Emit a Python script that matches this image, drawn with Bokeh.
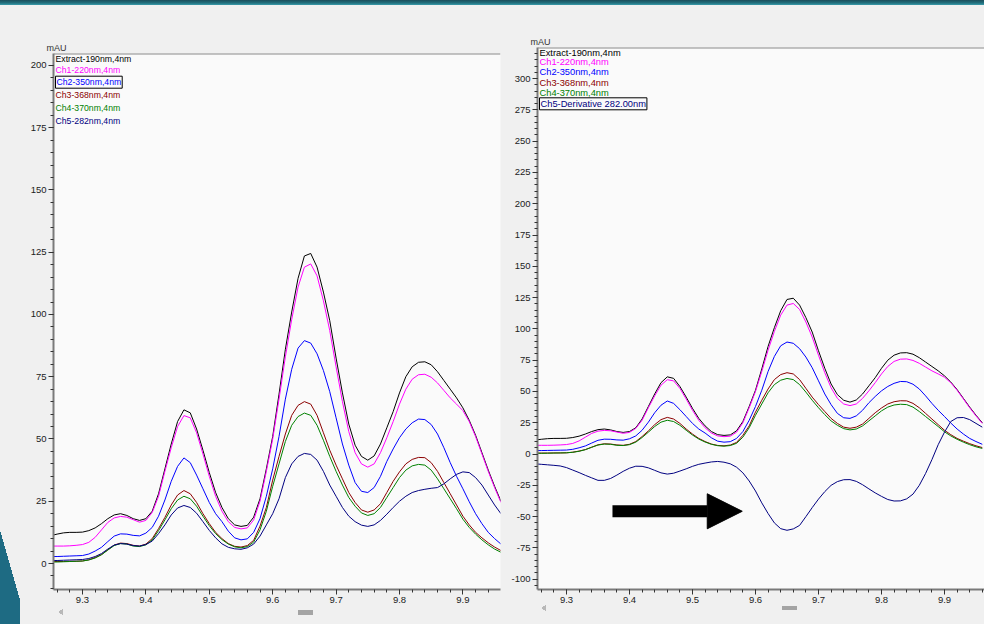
from bokeh.plotting import figure
from bokeh.layouts import row
from bokeh.models import (Range1d, SingleIntervalTicker, PrintfTickFormatter, Label,
                          Arrow, NormalHead, Span, Title)
from bokeh.embed import file_html
from bokeh.resources import INLINE

# ---------------- data (retention time in min, absorbance in mAU) ----------------
RT = [9.25, 9.26, 9.27, 9.28, 9.29, 9.30, 9.31, 9.32, 9.33, 9.34,
      9.35, 9.36, 9.37, 9.38, 9.39, 9.40, 9.41, 9.42, 9.43, 9.44,
      9.45, 9.46, 9.47, 9.48, 9.49, 9.50, 9.51, 9.52, 9.53, 9.54,
      9.55, 9.56, 9.57, 9.58, 9.59, 9.60, 9.61, 9.62, 9.63, 9.64,
      9.65, 9.66, 9.67, 9.68, 9.69, 9.70, 9.71, 9.72, 9.73, 9.74,
      9.75, 9.76, 9.77, 9.78, 9.79, 9.80, 9.81, 9.82, 9.83, 9.84,
      9.85, 9.86, 9.87, 9.88, 9.89, 9.90, 9.91, 9.92, 9.93, 9.94,
      9.95, 9.96]

EXTRACT_190 = [11.2, 11.8, 12.3, 12.5, 12.5, 12.6, 13.2, 14.3, 16.0, 18.0,
               19.5, 20.0, 19.3, 18.0, 17.3, 18.0, 21.0, 28.0, 38.0, 48.0,
               57.0, 61.7, 60.5, 54.0, 45.5, 36.5, 28.5, 22.5, 18.0, 15.5,
               14.9, 15.3, 18.6, 26.0, 38.0, 51.0, 68.0, 86.0, 101.0, 114.5,
               123.5, 124.5, 119.0, 109.0, 97.5, 82.5, 68.5, 56.0, 47.5, 43.0,
               41.5, 43.2, 48.0, 54.5, 61.0, 68.5, 75.0, 79.0, 80.8, 81.0,
               79.8, 77.0, 73.5, 70.0, 66.5, 62.5, 57.5, 51.5, 44.5, 37.5,
               31.0, 25.0]

CH1_220 = [7.0, 7.0, 7.0, 7.1, 7.3, 7.6, 8.5, 10.5, 13.5, 16.5,
           18.3, 18.9, 18.6, 17.6, 16.6, 17.3, 20.5, 27.0, 37.0, 46.5,
           55.0, 59.4, 58.5, 52.5, 44.0, 35.0, 27.0, 21.0, 16.8, 14.5,
           13.9, 14.3, 17.5, 25.0, 37.0, 50.0, 66.0, 83.0, 98.0, 111.0,
           119.0, 120.3, 115.5, 105.5, 93.5, 79.0, 65.0, 53.0, 44.5, 40.0,
           38.7, 40.0, 44.5, 50.5, 57.0, 64.0, 70.0, 74.0, 75.8, 76.0,
           74.8, 72.5, 69.5, 66.5, 64.0, 61.4, 57.0, 51.0, 44.0, 37.0,
           30.5, 24.5]

CH2_350 = [2.8, 2.8, 2.9, 3.0, 3.1, 3.2, 3.8, 5.0, 6.5, 8.8,
           11.0, 11.9, 11.8, 11.3, 11.1, 12.2, 14.5, 19.0, 25.5, 33.0,
           39.0, 42.4, 40.5, 35.5, 30.0, 24.5, 20.0, 16.8, 13.0, 10.3,
           9.5, 9.9, 12.5, 18.0, 27.0, 38.0, 51.0, 66.0, 78.0, 86.5,
           89.5, 88.5, 84.2, 77.5, 69.0, 58.5, 48.0, 39.5, 32.5, 29.0,
           28.5, 30.5, 35.0, 41.0, 46.0, 50.5, 54.0, 56.5, 58.0, 57.8,
           55.8, 52.0, 46.5, 40.5, 35.0, 30.0, 24.8, 20.0, 16.0, 12.5,
           10.0, 7.8]

CH3_368 = [0.8, 0.8, 0.8, 0.9, 0.9, 1.0, 1.5, 2.4, 3.6, 5.5,
           7.4, 8.2, 8.0, 7.3, 7.0, 7.8, 10.0, 14.0, 18.5, 23.5,
           27.5, 29.3, 28.0, 24.5, 20.0, 16.0, 12.5, 10.0, 8.0, 6.9,
           6.6, 7.2, 9.3, 15.0, 22.5, 33.5, 43.0, 52.0, 59.5, 63.5,
           65.0, 64.0, 59.5, 52.5, 45.5, 39.5, 34.0, 28.5, 24.5, 21.5,
           20.6, 21.5, 24.0, 28.5, 33.0, 36.8, 40.0, 41.8, 42.6, 42.5,
           40.5, 37.0, 32.5, 28.0, 23.5, 19.0, 15.5, 12.5, 10.3, 8.3,
           6.6, 5.2]

CH4_370 = [0.6, 0.6, 0.7, 0.8, 0.9, 1.0, 1.4, 2.2, 3.5, 5.4,
           7.2, 8.0, 7.8, 7.0, 6.8, 7.5, 9.5, 13.2, 17.5, 22.0,
           25.5, 27.0, 26.0, 23.0, 19.0, 15.2, 12.0, 9.6, 7.8, 6.7,
           6.3, 6.8, 8.6, 13.5, 21.0, 31.0, 40.0, 49.0, 55.5, 59.0,
           60.4, 59.5, 55.5, 49.5, 43.0, 37.0, 31.5, 26.5, 23.0, 20.3,
           19.3, 20.0, 22.5, 26.5, 30.5, 34.5, 37.5, 39.2, 39.8, 39.5,
           37.5, 34.0, 30.0, 26.0, 22.0, 17.8, 14.5, 11.8, 9.5, 7.5,
           5.8, 4.5]

CH5_282 = [1.2, 1.2, 1.3, 1.4, 1.5, 1.6, 2.0, 2.8, 4.0, 5.8,
           7.4, 8.0, 7.8, 7.2, 7.0, 7.6, 9.0, 12.0, 15.5, 19.5,
           22.3, 23.3, 22.5, 20.2, 16.8, 13.3, 10.3, 7.9, 6.5, 5.9,
           5.7, 6.3, 7.8, 11.0, 15.5, 20.0, 26.0, 34.5, 40.0, 43.0,
           44.2, 43.8, 41.5, 37.0, 31.5, 27.0, 22.5, 19.0, 16.8, 15.4,
           14.9, 15.5, 17.3, 19.8, 22.5, 25.0, 27.0, 28.5, 29.3, 29.8,
           30.2, 30.5, 32.0, 34.0, 35.8, 36.8, 36.5, 34.5, 31.5, 27.5,
           23.5, 20.0]

CH5_DERIV = [-7.8, -8.2, -8.6, -9.0, -9.5, -10.8, -12.8, -14.8, -17.0, -19.0,
             -21.0, -21.0, -19.5, -16.8, -13.8, -11.3, -9.7, -9.8, -11.0, -13.0,
             -15.0, -16.0, -15.3, -13.6, -11.8, -9.8, -8.2, -7.2, -6.3, -5.9,
             -6.5, -7.8, -10.5, -15.0, -21.5, -29.5, -39.0, -47.5, -55.0, -59.6,
             -60.9, -59.8, -57.0, -50.0, -42.8, -36.0, -30.0, -25.0, -22.0, -20.5,
             -20.4, -21.8, -24.5, -27.8, -31.0, -33.8, -36.3, -37.5, -37.4, -35.8,
             -32.0, -25.0, -15.5, -4.5, 7.5, 17.5, 26.0, 29.0, 29.2, 27.5,
             24.5, 21.5]

LEFT_NAMES = ["Extract-190nm,4nm", "Ch1-220nm,4nm", "Ch2-350nm,4nm",
              "Ch3-368nm,4nm", "Ch4-370nm,4nm", "Ch5-282nm,4nm"]
RIGHT_NAMES = ["Extract-190nm,4nm", "Ch1-220nm,4nm", "Ch2-350nm,4nm",
               "Ch3-368nm,4nm", "Ch4-370nm,4nm", "Ch5-Derivative 282.00nm"]
COLORS = ["#000000", "#ff00ff", "#0000ff", "#8b0000", "#008000", "#000080"]

LEFT_SERIES = [EXTRACT_190, CH1_220, CH2_350, CH3_368, CH4_370, CH5_282]
RIGHT_SERIES = [EXTRACT_190, CH1_220, CH2_350, CH3_368, CH4_370, CH5_DERIV]

# annotation arrow (data coordinates of right panel)
ARROW_X0, ARROW_X1, ARROW_Y = 9.373, 9.579, -45.7

FONT = "Liberation Sans"
BG = "#f0f0f0"
PLOT_BG = "#fafafa"
TEAL = "#1e6b83"


def style(p, ytop):
    p.background_fill_color = PLOT_BG
    p.border_fill_alpha = 0
    p.outline_line_color = None
    p.xgrid.visible = False
    p.ygrid.visible = False
    for ax in (p.xaxis[0], p.yaxis[0]):
        ax.axis_line_color = "#7a7a7a"
        ax.axis_line_width = 2
        ax.major_tick_line_color = "#333333"
        ax.minor_tick_line_color = "#333333"
        ax.major_tick_out = 5
        ax.major_tick_in = 0
        ax.minor_tick_out = 3
        ax.minor_tick_in = 0
        ax.major_label_text_font = FONT
        ax.major_label_text_font_size = "9.5px"
        ax.major_label_text_color = "#222222"
        ax.major_label_standoff = 2
    p.xaxis[0].ticker = SingleIntervalTicker(interval=0.1, num_minor_ticks=5)
    p.xaxis[0].formatter = PrintfTickFormatter(format="%.1f")
    p.yaxis[0].ticker = SingleIntervalTicker(interval=25, num_minor_ticks=5)
    p.yaxis[0].formatter = PrintfTickFormatter(format="%d")
    p.add_layout(Span(location=ytop, dimension="width", line_color="#8a8a8a", line_width=2))


def legend(p, names, y_positions, boxed, font_size):
    for name, col, yy in zip(names, COLORS, y_positions):
        lab = Label(x=2, y=yy, x_units="screen", y_units="screen", text=name,
                    text_color=col, text_font=FONT, text_font_size=font_size,
                    text_baseline="middle", text_align="left")
        if name == boxed:
            lab.border_line_color = "#000000"
            lab.border_line_width = 1
            lab.padding = 1
        p.add_layout(lab)


# ---------------- left panel ----------------
L_YTOP = 204.8
left = figure(width=505, height=624, output_backend="svg", toolbar_location=None,
              x_range=Range1d(9.2543, 9.9593), y_range=Range1d(-10.44, L_YTOP),
              min_border_left=53, min_border_right=5, min_border_top=53, min_border_bottom=35,
              frame_align=False)
left.title = Title(text="mAU", align="left", offset=-7, text_font=FONT,
                   text_font_size="9px", text_font_style="normal", text_color="#333333",
                   standoff=2)
style(left, L_YTOP)
for ser, col in zip(LEFT_SERIES, COLORS):
    left.line(RT, ser, line_color=col, line_width=1)
legend(left, LEFT_NAMES, [530.7, 519.7, 507.3, 494.3, 481.3, 468.3], "Ch2-350nm,4nm", "8.7px")

# ---------------- right panel ----------------
R_YTOP = 324.8
right = figure(width=479, height=624, output_backend="svg", toolbar_location=None,
               x_range=Range1d(9.254, 9.9635), y_range=Range1d(-108.2, R_YTOP),
               min_border_left=32, min_border_right=0, min_border_top=47, min_border_bottom=35,
               frame_align=False)
right.title = Title(text="mAU", align="left", offset=-7, text_font=FONT,
                    text_font_size="9px", text_font_style="normal", text_color="#333333",
                    standoff=2)
style(right, R_YTOP)
for ser, col in zip(RIGHT_SERIES, COLORS):
    right.line(RT, ser, line_color=col, line_width=1)
legend(right, RIGHT_NAMES, [536.7, 528.0, 517.3, 507.0, 496.3, 485.7],
       "Ch5-Derivative 282.00nm", "9.3px")

right.add_layout(Arrow(x_start=ARROW_X0, y_start=ARROW_Y, x_end=ARROW_X1, y_end=ARROW_Y,
                       line_color="#000000", line_width=12,
                       end=NormalHead(size=35, fill_color="#000000", line_color="#000000")))

# page decoration (slide background, scrollbar thumbs and arrows) as CSS background layers
THUMB = "#a4a4a4"
ARR = "#b8b8b8"
layers = [
    "linear-gradient(to bottom right, transparent 50%%, %s 50%%) 58px 609px / 5px 3px no-repeat" % ARR,
    "linear-gradient(to top right, transparent 50%%, %s 50%%) 58px 612px / 5px 3px no-repeat" % ARR,
    "linear-gradient(to bottom right, transparent 50%%, %s 50%%) 541px 605px / 5px 3px no-repeat" % ARR,
    "linear-gradient(to top right, transparent 50%%, %s 50%%) 541px 608px / 5px 3px no-repeat" % ARR,
    "linear-gradient(%s, %s) 298px 610px / 15px 5px no-repeat" % (THUMB, THUMB),
    "linear-gradient(%s, %s) 782px 606px / 15px 4px no-repeat" % (THUMB, THUMB),
    "linear-gradient(to top right, %s 50%%, transparent 50%%) 0 530px / 20px 70px no-repeat" % TEAL,
    "linear-gradient(%s, %s) 0 600px / 20px 24px no-repeat" % (TEAL, TEAL),
    "linear-gradient(#1b4e5b 0px, #22707e 3px, #3a9cab 5px, transparent 5px) 0 0 / 100% 6px no-repeat",
    BG,
]
BACKGROUND = ", ".join(layers)

page = row(left, right, styles={"background": BACKGROUND})
open("out.html", "w").write(file_html(page, INLINE))
